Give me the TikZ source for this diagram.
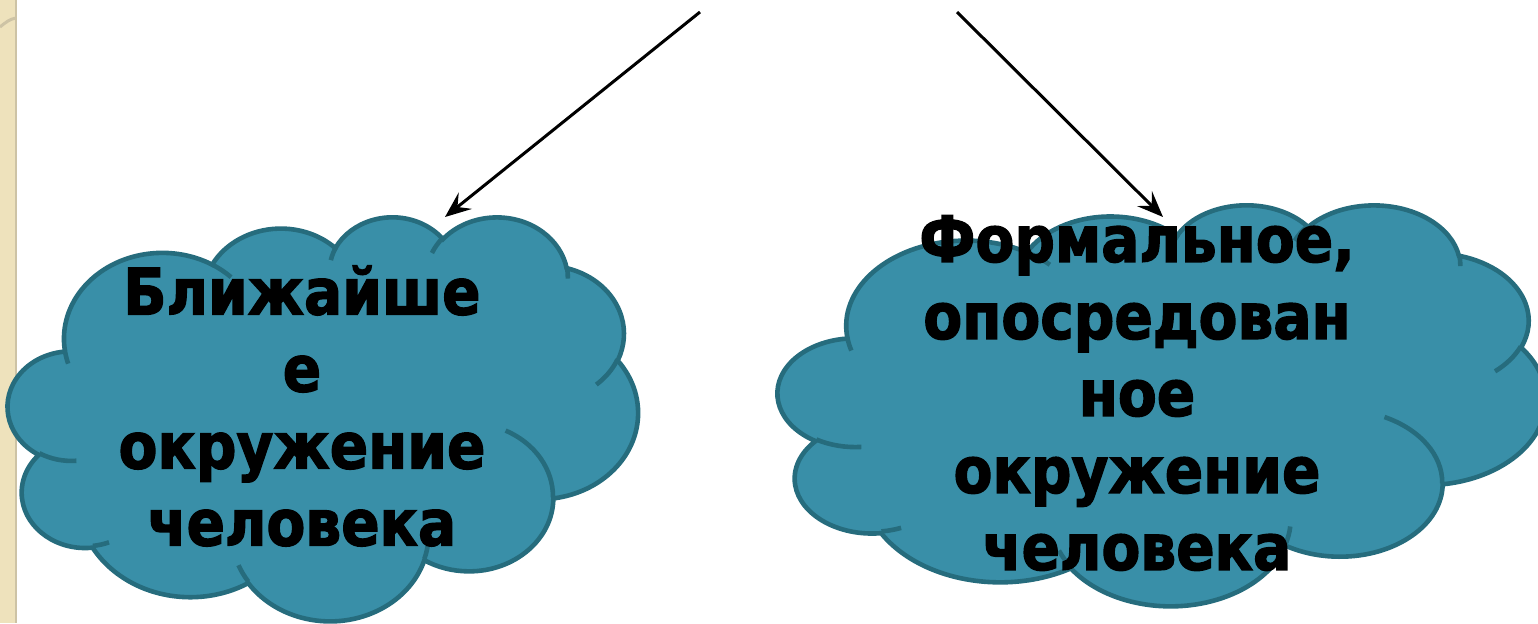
\documentclass[tikz,border=0pt]{standalone}
\usepackage{fontspec}
\usetikzlibrary{arrows.meta}

\newfontfamily\cloudfont{DejaVu Sans}[FakeStretch=0.885, BoldFeatures={FakeBold=2}]

\definecolor{cloudfill}{RGB}{57,143,168}
\definecolor{cloudline}{RGB}{38,108,125}
\definecolor{stripbeige}{RGB}{238,226,188}
\definecolor{stripedge}{RGB}{205,195,165}

% cloud outline, 432x432 box (wR/hR/start/sweep)
\newcommand\cloudoutline{}
\foreach \a/\b/\s/\w [count=\i] in {67.53/91.90/-190.4875/123.7805,
  53.33/72.67/-144.1024/89.9452, 43.65/59.45/-145.8079/99.7230,
  48.57/65.95/-130.9861/117.2417, 53.33/72.73/-78.7089/109.0269,
  67.75/92.20/-46.2673/130.2690, 57.85/78.67/0.6250/114.0333,
  67.52/92.15/22.4516/115.1726, 77.20/105.43/66.2426/75.7110,
  43.60/59.18/-274.9421/146.7356, 43.45/59.45/-246.8285/152.5189}{%
  \pgfmathsetmacro\ta{atan2(\a*sin(\s),\b*cos(\s))}%
  \pgfmathsetmacro\tb{atan2(\a*sin(\s+\w),\b*cos(\s+\w))}%
  \pgfmathsetmacro\dt{\tb-\ta}%
  \pgfmathsetmacro\dt{\dt+360*round((\w-\dt)/360)}%
  \xdef\cloudoutline{\cloudoutline arc[x radius=\a, y radius=\b, start angle=\ta, delta angle=\dt] coordinate (-p\i)}%
}
% inner creases
\newcommand\cloudcreases{}
\foreach \x/\y/\a/\b/\s/\w in {46.93/261.77/43.45/59.45/86.7420/26.4295,
  69.28/348.99/43.60/59.18/73.6105/11.4475, 164.78/390.90/67.52/92.15/137.6242/14.0811,
  288.27/347.51/67.52/92.15/6.4533/15.9984, 341.29/229.54/57.85/78.67/-70.2924/70.9174,
  417.98/153.54/53.33/72.73/30.3180/27.7515, 383.24/54.26/48.57/65.95/-13.7443/14.8589,
  290.78/39.52/48.57/65.95/-149.1815/18.1954, 221.41/47.20/43.65/59.45/-163.4943/17.6864,
  140.00/51.92/67.53/91.90/-66.7070/12.3194, 41.27/157.89/67.53/91.90/157.6544/11.8582}{%
  \pgfmathsetmacro\ta{atan2(\a*sin(\s),\b*cos(\s))}%
  \pgfmathsetmacro\tb{atan2(\a*sin(\s+\w),\b*cos(\s+\w))}%
  \pgfmathsetmacro\dt{\tb-\ta}%
  \pgfmathsetmacro\dt{\dt+360*round((\w-\dt)/360)}%
  \xdef\cloudcreases{\cloudcreases (\x,\y) arc[x radius=\a, y radius=\b, start angle=\ta, delta angle=\dt]}%
}

\tikzset{
  ppcloud/.pic={
    \filldraw[fill=cloudfill, draw=cloudline, line width=2.3pt] (39,143.7) \cloudoutline -- cycle;
    \draw[cloudline, line width=2.3pt] \cloudcreases;
  },
  cloudtext/.style={align=center, inner sep=0pt,
    font=\cloudfont\bfseries\fontsize{32}{38.5}\selectfont},
  pointer/.style={line width=1.5pt, -{Stealth[length=13pt, width=10.5pt, inset=5pt]}}
}

\begin{document}
\begin{tikzpicture}[x=0.5pt, y=-0.5pt]
\useasboundingbox (0,0) rectangle (1538,623);

% paper strip on the left
\fill[stripbeige] (0,0) rectangle (16,623);
\draw[stripedge, line width=1pt] (16,0) -- (16,623);
\draw[stripedge, line width=1.5pt] (0,27) .. controls (6,22) and (10,19) .. (16,18);

\pic[xscale=1.458, yscale=0.935] (L) at (8,216) {ppcloud};
\pic[xscale=1.777, yscale=0.928] (R) at (778,204) {ppcloud};

\node[cloudtext] (near) at (302,406) {Ближайше\\е\\окружение\\человека};
\node[cloudtext] (formal) at (1137,393) {Формальное,\\опосредован\\ное\\окружение\\человека};

\coordinate (ltail) at (700,12);
\coordinate (lhead) at (445,217);
\coordinate (rtail) at (957,12);
\coordinate (rhead) at (1163,217);

\draw[pointer] (ltail) -- (lhead);
\draw[pointer] (rtail) -- (rhead);
\end{tikzpicture}
\end{document}
